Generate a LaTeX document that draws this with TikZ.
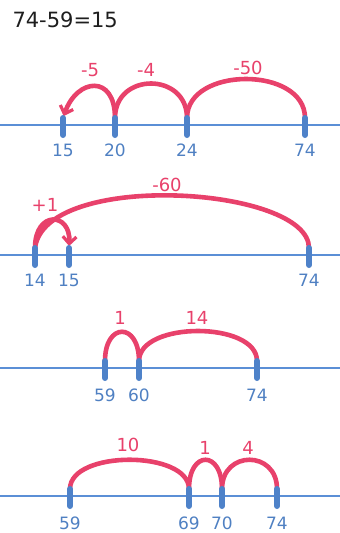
\documentclass[tikz,border=0pt]{standalone}
\usepackage{fontspec}
\setmainfont{DejaVu Sans}
\usepackage{xcolor}
\usepackage{tikz}
\usetikzlibrary{arrows.meta,positioning}
\definecolor{linec}{HTML}{5B8FD6}
\definecolor{tickc}{HTML}{4E82C9}
\definecolor{numc}{HTML}{4F80C2}
\definecolor{hopc}{HTML}{E8416B}
\definecolor{inkc}{HTML}{1E1E1E}
\tikzset{
  numline/.style={linec,line width=2.4pt},
  tickmark/.style={tickc,line width=6pt,line cap=round},
  hop/.style={hopc,line width=4.6pt},
  hoptip/.style={hop,-{Straight Barb[length=2.5mm,width=4.8mm,line width=3.2pt]},shorten >=2pt},
  num/.style={numc,font=\fontsize{17}{19}\selectfont},
  hoplbl/.style={hopc,font=\fontsize{18}{20}\selectfont}
}

\begin{document}
\begin{tikzpicture}[x=1pt,y=-1pt]
\useasboundingbox (0,0) rectangle (340,533);
\node[anchor=west,inkc,font=\fontsize{21}{23}\selectfont] (sum) at (9,20) {74-59=15};
% row 1: 74 -50 -4 -5
\draw[numline] (0,125) -- (340,125);
\coordinate (a15) at (63,118);
\coordinate (a20) at (115,118);
\coordinate (a24) at (187,118);
\coordinate (a74) at (305,118);
\draw[hop] (a74) .. controls +(0,-52) and +(0,-52) .. (a24);
\draw[hop] (a24) .. controls +(0,-46) and +(0,-46) .. (a20);
\draw[hoptip] (a20) .. controls +(0,-44) and +(14,-40) .. (a15);
\draw[tickmark] (a15) -- +(0,17);
\draw[tickmark] (a20) -- +(0,17);
\draw[tickmark] (a24) -- +(0,17);
\draw[tickmark] (a74) -- +(0,17);
\node[num] (na15) at (63,150) {15};
\node[num] (na20) at (115,150) {20};
\node[num] (na24) at (187,150) {24};
\node[num] (na74) at (305,150) {74};
\node[hoplbl] (ha5) at (90,70) {-5};
\node[hoplbl] (ha4) at (146,70) {-4};
\node[hoplbl] (ha50) at (248,68) {-50};
% row 2: 74 -60 +1
\draw[numline] (0,255) -- (340,255);
\coordinate (b14) at (35,248);
\coordinate (b15) at (69,248);
\coordinate (b74) at (309,248);
\draw[hop] (b74) .. controls +(0,-62) and +(10,-78) .. (b14);
\draw[hoptip] (b14) .. controls +(0,-38) and +(2,-36) .. (b15);
\draw[tickmark] (b14) -- +(0,17);
\draw[tickmark] (b15) -- +(0,17);
\draw[tickmark] (b74) -- +(0,17);
\node[num] (nb14) at (35,280) {14};
\node[num] (nb15) at (69,280) {15};
\node[num] (nb74) at (309,280) {74};
\node[hoplbl] (hb60) at (167,185) {-60};
\node[hoplbl] (hb1) at (45,205) {+1};
% row 3: 59 +1 +14
\draw[numline] (0,368) -- (340,368);
\coordinate (c59) at (105,361);
\coordinate (c60) at (139,361);
\coordinate (c74) at (257,361);
\draw[hop] (c59) .. controls +(0,-39) and +(0,-39) .. (c60);
\draw[hop] (c60) .. controls +(0,-40) and +(0,-40) .. (c74);
\draw[tickmark] (c59) -- +(0,17);
\draw[tickmark] (c60) -- +(0,17);
\draw[tickmark] (c74) -- +(0,17);
\node[num] (nc59) at (105,395) {59};
\node[num] (nc60) at (139,395) {60};
\node[num] (nc74) at (257,395) {74};
\node[hoplbl] (hc1) at (120,318) {1};
\node[hoplbl] (hc14) at (197,318) {14};
% row 4: 59 +10 +1 +4
\draw[numline] (0,496) -- (340,496);
\coordinate (d59) at (70,489);
\coordinate (d69) at (189,489);
\coordinate (d70) at (222,489);
\coordinate (d74) at (277,489);
\draw[hop] (d59) .. controls +(0,-39) and +(0,-39) .. (d69);
\draw[hop] (d69) .. controls +(0,-39) and +(0,-39) .. (d70);
\draw[hop] (d70) .. controls +(0,-39) and +(0,-39) .. (d74);
\draw[tickmark] (d59) -- +(0,17);
\draw[tickmark] (d69) -- +(0,17);
\draw[tickmark] (d70) -- +(0,17);
\draw[tickmark] (d74) -- +(0,17);
\node[num] (nd59) at (70,523) {59};
\node[num] (nd69) at (189,523) {69};
\node[num] (nd70) at (222,523) {70};
\node[num] (nd74) at (277,523) {74};
\node[hoplbl] (hd10) at (128,445) {10};
\node[hoplbl] (hd1) at (205,448) {1};
\node[hoplbl] (hd4) at (248,448) {4};
\end{tikzpicture}
\end{document}
